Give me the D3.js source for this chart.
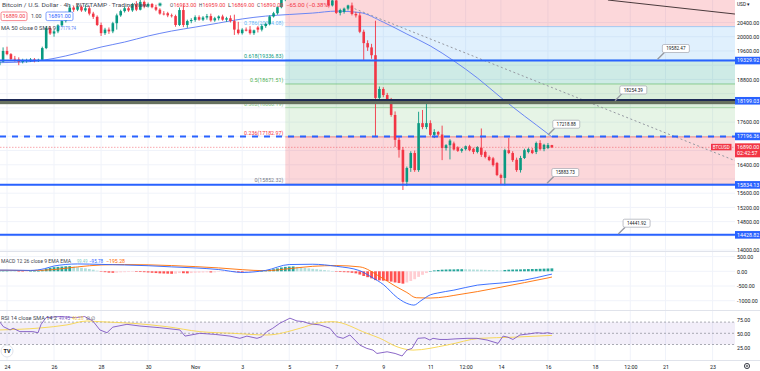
<!DOCTYPE html>
<html>
<head>
<meta charset="utf-8">
<script src="https://cdn.jsdelivr.net/npm/d3@7"></script>
<style>
  body { margin: 0; background: #fff; }
  #chart svg { display: block; font-family: Roboto, "Liberation Sans", Arial, sans-serif; }
</style>
</head>
<body>
<div id="chart"></div>
<script>
// ---------- data ----------
// days are counted from Oct 24 2022 00:00 UTC
const tickDays   = [0, 2, 4, 6, 8, 10, 12, 14, 16, 18, 19.5, 21, 23, 25, 26.5, 28, 30];
const tickLabels = ["24", "26", "28", "30", "Nov", "3", "5", "7", "9", "11", "12:00", "14", "16", "18", "12:00", "21", "23"];
const priceTicks = [14000, 14400, 14800, 15200, 15600, 16000, 16400, 16800, 17200, 17600, 18000, 18400, 18800, 19200, 19600, 20000, 20400];
const macdTicks  = [-1000, -500, 0, 500];
const rsiTicks   = [25, 50, 75];

// 4h candles, first one Oct 23 16:00 UTC. [open, high, low, close], one line per day
const candleStartDay = -1 / 3;
const candleStepDays = 1 / 6;
const candles = [
  [19200,19320,19170,19300],[19300,19700,19280,19600],
  [19600,19720,19480,19510],[19510,19540,19340,19370],[19380,19460,19300,19360],[19360,19420,19200,19290],[19290,19380,19250,19330],[19320,19380,19270,19340],
  [19340,19400,19290,19360],[19360,19400,19280,19320],[19320,19380,19290,19350],[19350,19720,19320,19680],[19680,20300,19650,20240],[20240,20300,20050,20090],
  [20090,20200,20000,20150],[20150,20350,20100,20320],[20320,20500,20280,20440],[20440,20700,20400,20640],[20640,20880,20600,20820],[20820,20870,20700,20760],
  [20760,20900,20720,20840],[20840,20880,20700,20740],[20740,20900,20700,20800],[20800,20870,20600,20650],[20650,20700,20500,20560],[20560,20600,20300,20330],
  [20330,20400,20020,20100],[20100,20250,20050,20200],[20200,20260,20080,20150],[20150,20420,20100,20380],[20380,20650,20200,20600],[20600,20760,20560,20720],
  [20720,20850,20680,20800],[20800,20850,20700,20740],[20740,20950,20700,20920],[20920,21000,20720,20760],[20760,21080,20740,20980],[20980,21020,20800,20850],
  [20850,20960,20820,20920],[20920,20950,20800,20830],[20830,20900,20720,20760],[20760,20800,20620,20650],[20650,20720,20600,20640],[20660,20700,20550,20600],
  [20600,20650,20540,20580],[20580,20620,20280,20330],[20330,20820,20300,20750],[20750,20890,20270,20330],[20330,20480,20250,20440],[20440,20520,20380,20470],
  [20470,20600,20420,20550],[20550,20600,20450,20480],[20480,20580,20440,20540],[20540,20640,20480,20580],[20580,20650,20420,20460],[20460,20560,20420,20520],
  [20520,20600,20460,20570],[20570,20620,20450,20480],[20480,20560,20420,20520],[20520,20600,20400,20440],[20440,20620,20050,20200],[20200,20420,20060,20100],
  [20100,20240,20060,20200],[20200,20260,20150,20170],[20200,20300,20060,20100],[20100,20200,20050,20180],[20260,20300,20120,20200],[20200,20350,20150,20300],
  [20300,20400,20250,20360],[20360,20600,20320,20570],[20570,20700,20540,20660],[20660,20850,20620,20830],[20830,21100,20800,21050],[21050,21300,21000,21220],
  [21220,21400,21180,21330],[21330,21480,21280,21400],[21400,21450,21250,21300],[21300,21370,21180,21250],[21250,21350,21200,21290],[21290,21370,21230,21300],
  [21300,21350,21220,21270],[21270,21330,21150,21200],[21200,21260,21100,21150],[21150,21250,21050,21100],[21100,21180,20850,20880],[20880,21080,20850,21020],
  [21020,21080,20640,20670],[20670,20790,20600,20750],[20700,20820,20650,20790],[20790,20900,20740,20880],[20880,20960,20600,20640],[20640,20700,20540,20600],
  [20600,20680,20100,20140],[20140,20200,19350,19820],[19820,19900,19600,19700],[19700,19800,19380,19480],[19480,20450,17180,18280],[18280,18600,18150,18530],
  [18530,18580,18300,18360],[18360,18420,18180,18220],[18220,18280,17750,17800],[17800,17900,16900,17100],[17100,17200,16600,16820],[16820,16900,15690,15920],
  [15920,16350,15800,16310],[16310,16780,16200,16730],[16730,16800,16200,16250],[16250,17890,16200,17570],[17570,17940,17400,17460],[17460,18220,17400,17570],
  [17570,17650,17200,17240],[17240,17400,17150,17320],[17320,17350,17200,17250],[17250,17500,16530,16870],[16870,16980,16800,16950],[16950,17120,16550,17080],
  [17000,17050,16800,16830],[16890,16920,16760,16790],[16790,16870,16740,16840],[16840,16940,16800,16920],[16920,16960,16780,16810],[16850,16880,16700,16760],
  [16760,16920,16720,16900],[16880,17420,16620,16680],[16760,16800,16580,16620],[16620,16660,16500,16530],[16580,16620,16350,16390],[16450,16480,16080,16110],
  [16110,16150,15830,16030],[16030,16850,15820,16810],[16810,17150,16700,16730],[16730,16780,16480,16530],[16540,16600,16200,16250],[16250,16650,16180,16590],
  [16590,16850,16560,16810],[16760,16880,16720,16840],[16810,16870,16700,16730],[16760,17050,16700,17010],[17010,17090,16800,16840],[16840,16990,16780,16960],
  [16870,17010,16840,16953],[16953,16959,16869,16890]
];

// MACD histogram, one value per candle
const macdHist = [
  10, 15,
  15, 10, 5, -5, -10, -5,
  0, 5, 10, 40, 90, 120,
  140, 150, 160, 170, 175, 160,
  140, 120, 100, 80, 55, 20,
  -10, -30, -45, -50, -45, -35,
  -30, -25, -15, -20, -25, -30,
  -40, -50, -60, -70, -75, -80,
  -85, -80, -60, -65, -70, -60,
  -50, -45, -40, -35, -40, -35,
  -20, -15, -10, -5, -15, -30,
  -40, -35, -30, -20, -10, 0,
  15, 40, 70, 100, 130, 150,
  160, 165, 150, 135, 115, 100,
  85, 70, 55, 40, 25, 10,
  -15, -25, -30, -35, -50, -70,
  -110, -160, -200, -240, -300, -310,
  -320, -330, -350, -380, -400, -420,
  -380, -330, -270, -190, -120, -60,
  10, 30, 45, 55, 60, 65,
  65, 70, 70, 68, 65, 60,
  58, 55, 50, 45, 40, 35,
  30, 45, 55, 60, 62, 65,
  70, 75, 78, 80, 85, 90,
  95, 99.49
];

// [day, value]
const macdLine = [[-1,40],[0,40],[1,30],[1.6,90],[2,180],[3,250],[4,235],[5,215],[6,190],[7,150],[8,115],[9,60],[10,-40],[10.5,-20],[11,30],[12,230],[13,240],[14,170],[15,20],[15.5,-200],[16,-450],[16.6,-900],[17.1,-1120],[17.3,-1150],[17.6,-1000],[18,-800],[18.3,-740],[19,-640],[20,-470],[21,-400],[21.5,-354],[22,-300],[23,-125],[23.17,-95.78]];
const signalLine = [[-1,40],[0,35],[1,25],[2,60],[3,150],[4,215],[5,230],[6,220],[7,195],[8,160],[9,115],[10,55],[11,20],[12,90],[13,170],[14,195],[15,150],[15.86,-184],[16.5,-500],[17,-720],[17.4,-900],[18,-910],[18.7,-860],[19,-820],[20,-690],[21,-540],[22,-385],[23,-225],[23.17,-195.28]];
const ma50 = [[-1,19260],[0,19275],[1,19300],[2,19390],[3,19540],[4,19710],[5,19850],[6,20020],[7,20160],[8,20270],[9,20385],[10,20500],[11,20580],[12,20625],[13,20665],[14,20720],[15,20680],[16,20410],[17,20076],[18,19740],[19,19320],[20,18840],[21,18290],[22,17770],[23,17270],[23.17,17180]];
const rsi = [[-0.3,70],[-0.16,62],[0.13,56],[0.26,59],[0.55,53],[1.1,53],[1.32,51],[1.45,66],[1.66,78],[2.25,80],[2.9,78],[3.3,80],[3.65,72],[3.95,56],[4.25,51],[4.5,61],[5.1,66],[5.65,63],[6.5,60],[7.35,56],[7.57,45],[8.2,50],[8.85,48],[9.48,45],[9.9,41],[10.2,45],[10.63,41],[10.84,44],[11.05,53],[11.3,59],[11.6,68],[12.03,77],[12.33,72],[12.58,71],[12.88,67],[13.3,65],[13.73,59],[14.03,44],[14.29,41],[14.58,47],[15,29],[15.3,23],[15.56,20],[15.73,14],[16.16,17],[16.5,14],[16.8,9.5],[17,20],[17.22,23],[17.47,41],[17.77,42],[17.98,38],[18.11,41],[18.41,39],[18.71,39],[19.05,40],[19.56,41],[19.98,41],[20.41,38],[20.88,32],[21.09,45],[21.3,43],[21.51,39],[21.81,47],[22.15,48.7],[22.53,51],[22.79,50],[23,51],[23.17,49.45]];
const rsiSma = [[-0.3,56],[1.4,59.5],[2.55,65],[3.4,72],[3.95,70.7],[5.36,67.8],[6.8,61.8],[8.2,53],[9.6,50],[11.05,47],[12.46,59],[13.18,68],[13.86,70.7],[15.3,50],[15.86,41],[16.58,26],[17.26,20],[18.71,29],[20.1,41],[21.51,43],[23.17,46.28]];

// Fibonacci retracement drawn from Nov 4 20:00
const fibStartDay = 11.833;
const fibLevels = ["0", "0.236", "0.382", "0.5", "0.618", "0.786", "1"];
const fibPrices = [15852.32, 17182.97, 18006.19, 18671.51, 19336.83, 20284.08, 21490.68];

// horizontal lines
const solidLinePrices = [19329.92, 15834.13, 14428.82];
const dashedLinePrices = [17196.36];
const darkLinePrice = 18199.03;
const lastPrice = 16890.00;

// trend lines [day, price]
const dottedTrend = [[14.6, 20835], [31.2, 16450]];
const darkTrend = [[25.55, 21032], [30.95, 20638]];

// price notes: text and anchor [day, price]
const noteTexts = ["19582.47", "18254.39", "17218.88", "15883.73", "14441.92"];
const noteAnchors = [[27.66, 19365], [25.85, 18201], [23.0, 17236], [22.96, 15878], [25.99, 14453]];

// ---------- chart ----------
const W = 760, H = 371, plotR = 735;
const paneMain = [0, 251], paneMacd = [251, 310], paneRsi = [310, 360];
const up = "#089981", down = "#f23645", blue = "#2962ff";
const fibColors = ["#787b86", "#f23645", "#81c784", "#4caf50", "#089981", "#64b5f6", "#f23645"];

const t0 = Date.UTC(2022, 9, 24);
const toDate = d => new Date(t0 + d * 864e5);

const x = d3.scaleTime().domain([toDate(0), toDate(30)]).range([7, 712.6]);
const y = d3.scaleLinear().domain([14000, 20400]).range([250.1, 22.5]);
const yMacd = d3.scaleLinear().domain([-1000, 500]).range([300.7, 256.6]);
const yRsi = d3.scaleLinear().domain([25, 75]).range([347.3, 319.3]);
const xd = d => x(toDate(d));

const svg = d3.select("#chart").append("svg").attr("width", W).attr("height", H);
const defs = svg.append("defs");
[["clipMain", paneMain], ["clipMacd", paneMacd], ["clipRsi", paneRsi]].forEach(([id, p]) => {
  defs.append("clipPath").attr("id", id).append("rect")
    .attr("x", 0).attr("y", p[0]).attr("width", plotR).attr("height", p[1] - p[0]);
});

// grid
const grid = svg.append("g").attr("stroke", "#f0f3fa").attr("stroke-width", 1);
tickDays.forEach(d => grid.append("line").attr("x1", xd(d)).attr("x2", xd(d)).attr("y1", 0).attr("y2", paneRsi[1]));
priceTicks.forEach(p => grid.append("line").attr("x1", 0).attr("x2", plotR).attr("y1", y(p)).attr("y2", y(p)));
macdTicks.forEach(v => grid.append("line").attr("x1", 0).attr("x2", plotR).attr("y1", yMacd(v)).attr("y2", yMacd(v)));

// ---- main pane ----
const main = svg.append("g").attr("clip-path", "url(#clipMain)");

// fib zones and levels
const fx = xd(fibStartDay);
for (let i = 0; i < fibPrices.length - 1; i++) {
  main.append("rect").attr("x", fx).attr("width", plotR - fx)
    .attr("y", y(fibPrices[i + 1])).attr("height", y(fibPrices[i]) - y(fibPrices[i + 1]))
    .attr("fill", fibColors[i + 1]).attr("fill-opacity", 0.2);
}
fibPrices.forEach((p, i) => {
  main.append("line").attr("x1", fx).attr("x2", plotR).attr("y1", y(p)).attr("y2", y(p))
    .attr("stroke", fibColors[i]).attr("stroke-opacity", 0.55).attr("stroke-width", 1);
  if (y(p) > 8) {
    main.append("text").attr("x", fx - 2).attr("y", y(p) - 2).attr("text-anchor", "end")
      .attr("font-size", 5.3).attr("fill", fibColors[i])
      .text(fibLevels[i] + "(" + p.toFixed(2) + ")");
  }
});

// trend lines
main.append("line")
  .attr("x1", xd(dottedTrend[0][0])).attr("y1", y(dottedTrend[0][1]))
  .attr("x2", xd(dottedTrend[1][0])).attr("y2", y(dottedTrend[1][1]))
  .attr("stroke", "#9598a1").attr("stroke-width", 1).attr("stroke-dasharray", "2,2.5");
main.append("line")
  .attr("x1", xd(darkTrend[0][0])).attr("y1", y(darkTrend[0][1]))
  .attr("x2", xd(darkTrend[1][0])).attr("y2", y(darkTrend[1][1]))
  .attr("stroke", "#4a3a3c").attr("stroke-width", 1);

// MA 50
main.append("path").datum(ma50)
  .attr("d", d3.line().x(d => xd(d[0])).y(d => y(d[1])).curve(d3.curveMonotoneX))
  .attr("fill", "none").attr("stroke", "#6a86f5").attr("stroke-width", 1);

// candles
const bodyW = 2.6;
const cg = main.append("g");
candles.forEach((c, i) => {
  const cx = xd(candleStartDay + i * candleStepDays);
  const col = c[3] >= c[0] ? up : down;
  cg.append("line").attr("x1", cx).attr("x2", cx).attr("y1", y(c[1])).attr("y2", y(c[2]))
    .attr("stroke", col).attr("stroke-width", 0.9);
  const top = y(Math.max(c[0], c[3])), bot = y(Math.min(c[0], c[3]));
  cg.append("rect").attr("x", cx - bodyW / 2).attr("width", bodyW)
    .attr("y", top).attr("height", Math.max(0.8, bot - top)).attr("fill", col);
});

// last price dotted line
main.append("line").attr("x1", 0).attr("x2", plotR).attr("y1", y(lastPrice)).attr("y2", y(lastPrice))
  .attr("stroke", down).attr("stroke-opacity", 0.55).attr("stroke-width", 0.8).attr("stroke-dasharray", "1.5,1.5");

// horizontal lines
const yd = y(darkLinePrice);
main.append("rect").attr("x", 0).attr("width", plotR).attr("y", yd + 0.2).attr("height", 3.2).attr("fill", "#66705f");
main.append("line").attr("x1", 0).attr("x2", plotR).attr("y1", yd - 0.7).attr("y2", yd - 0.7)
  .attr("stroke", "#1e2a55").attr("stroke-width", 2);
solidLinePrices.forEach(p => main.append("line").attr("x1", 0).attr("x2", plotR)
  .attr("y1", y(p)).attr("y2", y(p)).attr("stroke", blue).attr("stroke-width", 2));
dashedLinePrices.forEach(p => main.append("line").attr("x1", 0).attr("x2", plotR)
  .attr("y1", y(p)).attr("y2", y(p)).attr("stroke", blue).attr("stroke-width", 2).attr("stroke-dasharray", "6,6"));

// price notes
noteTexts.forEach((t, i) => {
  const tx = xd(noteAnchors[i][0]), ty = y(noteAnchors[i][1]);
  const bx = tx + 4.8, by = ty - 6.8 - 8;
  main.append("line").attr("x1", tx).attr("y1", ty).attr("x2", bx + 2).attr("y2", ty - 6.8)
    .attr("stroke", "#9598a1").attr("stroke-width", 1.3);
  main.append("rect").attr("x", bx).attr("y", by).attr("width", 27).attr("height", 8).attr("rx", 1.5)
    .attr("fill", "#fff").attr("stroke", "#a3a6af").attr("stroke-width", 0.7);
  main.append("text").attr("x", bx + 13.5).attr("y", by + 5.6).attr("text-anchor", "middle")
    .attr("font-size", 4.6).attr("fill", "#131722").text(t);
});

// symbol tag at last price
main.append("rect").attr("x", 711).attr("y", y(lastPrice) - 3.5).attr("width", 20.5).attr("height", 6.5).attr("fill", down);
main.append("text").attr("x", 721.2).attr("y", y(lastPrice) + 1.3).attr("text-anchor", "middle")
  .attr("font-size", 4.5).attr("fill", "#fff").text("BTCUSD");

// ---- MACD pane ----
const macdG = svg.append("g").attr("clip-path", "url(#clipMacd)");
macdHist.forEach((v, i) => {
  const prev = i > 0 ? macdHist[i - 1] : v;
  const col = v >= 0 ? (v >= prev ? "#26a69a" : "#b2dfdb") : (v <= prev ? "#ff5252" : "#ffcdd2");
  const cx = xd(candleStartDay + i * candleStepDays);
  macdG.append("rect").attr("x", cx - 1.4).attr("width", 2.8)
    .attr("y", Math.min(yMacd(v), yMacd(0))).attr("height", Math.max(0.5, Math.abs(yMacd(v) - yMacd(0))))
    .attr("fill", col);
});
const macdPath = d3.line().x(d => xd(d[0])).y(d => yMacd(d[1])).curve(d3.curveMonotoneX);
macdG.append("path").datum(signalLine).attr("d", macdPath).attr("fill", "none").attr("stroke", "#ff6d00").attr("stroke-width", 0.9);
macdG.append("path").datum(macdLine).attr("d", macdPath).attr("fill", "none").attr("stroke", blue).attr("stroke-width", 0.9);

// ---- RSI pane ----
const rsiG = svg.append("g").attr("clip-path", "url(#clipRsi)");
rsiG.append("rect").attr("x", 0).attr("width", plotR).attr("y", yRsi(70)).attr("height", yRsi(30) - yRsi(70))
  .attr("fill", "#7e57c2").attr("fill-opacity", 0.1);
[70, 50, 30].forEach(v => rsiG.append("line").attr("x1", 0).attr("x2", plotR).attr("y1", yRsi(v)).attr("y2", yRsi(v))
  .attr("stroke", "#9598a1").attr("stroke-width", 0.8).attr("stroke-dasharray", "2,2"));
rsiG.append("path").datum(rsiSma).attr("d", d3.line().x(d => xd(d[0])).y(d => yRsi(d[1])).curve(d3.curveMonotoneX))
  .attr("fill", "none").attr("stroke", "#f7d54a").attr("stroke-width", 0.9);
rsiG.append("path").datum(rsi).attr("d", d3.line().x(d => xd(d[0])).y(d => yRsi(d[1])))
  .attr("fill", "none").attr("stroke", "#7e57c2").attr("stroke-width", 0.9);

// pane separators
[paneMain[1], paneMacd[1], paneRsi[1]].forEach(v => svg.append("line").attr("x1", 0).attr("x2", W)
  .attr("y1", v + 0.5).attr("y2", v + 0.5).attr("stroke", "#e0e3eb"));

// ---- axes ----
const special = solidLinePrices.concat(dashedLinePrices, [darkLinePrice, lastPrice]);
const visibleTicks = priceTicks.filter(p => special.every(s => Math.abs(y(s) - y(p)) > 8));
function styleAxis(g) {
  g.select(".domain").remove();
  g.attr("font-family", null).attr("font-size", 5.3);
  g.selectAll("text").attr("fill", "#131722");
}
svg.append("g").attr("transform", "translate(" + (plotR + 1) + ",0)")
  .call(d3.axisRight(y).tickValues(visibleTicks).tickSize(0).tickPadding(1).tickFormat(d => d.toFixed(2)))
  .call(styleAxis);
svg.append("g").attr("transform", "translate(" + (plotR + 1) + ",0)")
  .call(d3.axisRight(yMacd).tickValues(macdTicks).tickSize(0).tickPadding(1).tickFormat(d => (d < 0 ? "-" : "") + Math.abs(d).toFixed(2)))
  .call(styleAxis);
svg.append("g").attr("transform", "translate(" + (plotR + 1) + ",0)")
  .call(d3.axisRight(yRsi).tickValues(rsiTicks).tickSize(0).tickPadding(1).tickFormat(d => d.toFixed(2)))
  .call(styleAxis);
svg.append("g").attr("transform", "translate(0," + (paneRsi[1] + 1) + ")")
  .call(d3.axisBottom(x).tickValues(tickDays.map(toDate)).tickSize(0).tickPadding(4).tickFormat((d, i) => tickLabels[i]))
  .call(styleAxis);

// highlighted axis labels
solidLinePrices.concat(dashedLinePrices, [darkLinePrice]).forEach(p => {
  svg.append("rect").attr("x", plotR).attr("y", y(p) - 3.8).attr("width", W - plotR).attr("height", 7.6).attr("fill", blue);
  svg.append("text").attr("x", plotR + 2).attr("y", y(p) + 1.9).attr("font-size", 5.3).attr("fill", "#fff").text(p.toFixed(2));
});
svg.append("rect").attr("x", plotR).attr("y", y(lastPrice) - 4).attr("width", W - plotR).attr("height", 14).attr("fill", down);
svg.append("text").attr("x", plotR + 2).attr("y", y(lastPrice) + 1.9).attr("font-size", 5.3).attr("fill", "#fff").text(lastPrice.toFixed(2));
svg.append("text").attr("x", plotR + 2).attr("y", y(lastPrice) + 8).attr("font-size", 5.3).attr("fill", "#fff").text("02:42:57");
svg.append("text").attr("x", plotR + 2).attr("y", 6).attr("font-size", 4.8).attr("fill", "#131722").text("USD \u25BE");

// ---- legends ----
const lg = svg.append("g").attr("font-size", 5.4);
// text fitted to the width it takes in the reference
function fitText(xp, yp, w, col, str) {
  return lg.append("text").attr("x", xp).attr("y", yp).attr("fill", col)
    .attr("textLength", w).attr("lengthAdjust", "spacingAndGlyphs").text(str);
}
fitText(2, 6.5, 146, "#434651", "Bitcoin / U.S. Dollar \u00B7 4h \u00B7 BITSTAMP \u00B7 TradingView");
lg.append("circle").attr("cx", 160).attr("cy", 4.5).attr("r", 2.2).attr("fill", "#089981").attr("fill-opacity", 0.35);
lg.append("circle").attr("cx", 160).attr("cy", 4.5).attr("r", 1.2).attr("fill", "#089981");
[["O", "16953.00", 170], ["H", "16959.00", 199], ["L", "16869.00", 228], ["C", "16890.00", 257]].forEach(([k, v, xp]) => {
  fitText(xp, 6.5, 3.2, "#434651", k);
  fitText(xp + 3.4, 6.5, 23, down, v);
});
fitText(286, 6.5, 44, down, "\u221265.00 (\u22120.38%)");

lg.append("rect").attr("x", 1).attr("y", 12).attr("width", 26).attr("height", 8.6).attr("rx", 1.5)
  .attr("fill", "#fff").attr("stroke", down).attr("stroke-width", 0.6);
lg.append("text").attr("x", 14).attr("y", 18.2).attr("text-anchor", "middle").attr("fill", down).text("16889.00");
lg.append("text").attr("x", 31).attr("y", 18.2).attr("fill", "#434651").text("1.00");
lg.append("rect").attr("x", 46).attr("y", 12).attr("width", 27).attr("height", 8.6).attr("rx", 1.5)
  .attr("fill", "#fff").attr("stroke", blue).attr("stroke-width", 0.6);
lg.append("text").attr("x", 59.5).attr("y", 18.2).attr("text-anchor", "middle").attr("fill", blue).text("16891.00");

fitText(1, 30, 55, "#434651", "MA 50 close 0 SMA 9");
fitText(58, 30, 18, "#5b7cf6", "17179.74");

fitText(1, 263, 70, "#434651", "MACD 12 26 close 9 EMA EMA");
fitText(77, 263, 10.5, "#80cbc4", "99.49");
fitText(89, 263, 14, blue, "\u221295.78");
fitText(106, 263, 19, "#ff6d00", "\u2212195.28");

fitText(1, 319.5, 56, "#434651", "RSI 14 close SMA 14 2");
fitText(59, 319.5, 11, "#7e57c2", "49.45");
fitText(72, 319.5, 11.5, "#f2c94c", "46.28");
fitText(86, 319.5, 9, "#434651", "\u2205 \u2205");

// logo and settings icon
svg.append("circle").attr("cx", 7).attr("cy", 351).attr("r", 6).attr("fill", "#fff").attr("stroke", "#e0e3eb");
svg.append("text").attr("x", 7).attr("y", 353).attr("text-anchor", "middle").attr("font-size", 5.5)
  .attr("font-weight", "bold").attr("fill", "#131722").text("TV");
svg.append("circle").attr("cx", 747).attr("cy", 366).attr("r", 2.6).attr("fill", "none").attr("stroke", "#131722").attr("stroke-width", 0.8);
svg.append("circle").attr("cx", 747).attr("cy", 366).attr("r", 0.9).attr("fill", "none").attr("stroke", "#131722").attr("stroke-width", 0.6);
</script>
</body>
</html>
